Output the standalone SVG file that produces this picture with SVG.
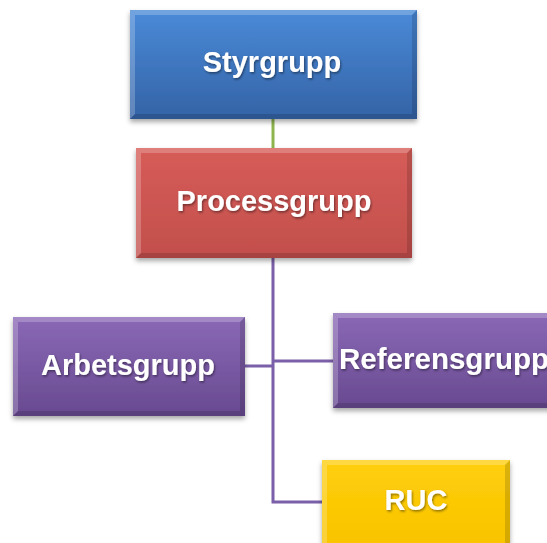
<svg xmlns="http://www.w3.org/2000/svg" width="547" height="543" viewBox="0 0 547 543">
<defs>
<linearGradient id="gBlue" x1="0" y1="0" x2="0" y2="1"><stop offset="0" stop-color="#4a8ad8"/><stop offset="1" stop-color="#3463a6"/></linearGradient>
<linearGradient id="gRed" x1="0" y1="0" x2="0" y2="1"><stop offset="0" stop-color="#d65c58"/><stop offset="1" stop-color="#c24f4c"/></linearGradient>
<linearGradient id="gPurple" x1="0" y1="0" x2="0" y2="1"><stop offset="0" stop-color="#8a68b6"/><stop offset="1" stop-color="#684a90"/></linearGradient>
<linearGradient id="gYellow" x1="0" y1="0" x2="0" y2="1"><stop offset="0" stop-color="#ffcf0a"/><stop offset="1" stop-color="#f8c200"/></linearGradient>
<filter id="shadow" x="-10%" y="-10%" width="120%" height="130%"><feDropShadow dx="0" dy="3" stdDeviation="2.5" flood-color="#000" flood-opacity="0.35"/></filter>
<filter id="tshadow" x="-10%" y="-20%" width="120%" height="150%"><feDropShadow dx="1" dy="1.5" stdDeviation="1" flood-color="#000" flood-opacity="0.45"/></filter>
</defs>
<style>
.lbl{font-family:"Liberation Sans",Arial,sans-serif;font-weight:bold;font-size:29px;fill:#ffffff;filter:url(#tshadow)}
.hi{fill:#ffffff;opacity:0.22}
.lo{fill:#000000;opacity:0.14}
.conn{fill:none;stroke-width:3}
</style>
<g id="connectors">
<line class="conn" x1="273" y1="119" x2="273" y2="148" stroke="#8db54c"/>
<path class="conn" d="M273 258 V502 H322" stroke="#7b5fa8"/>
<path class="conn" d="M245 366 H273" stroke="#7b5fa8"/>
<path class="conn" d="M273 361 H333" stroke="#7b5fa8"/>
</g>
<g id="styrgrupp">
<rect x="130" y="10" width="287" height="109" fill="url(#gBlue)" filter="url(#shadow)"/>
<polygon class="hi" points="130,10 417,10 412,15 135,15"/>
<polygon class="hi" points="130,10 135,15 135,114 130,119" opacity="0.12"/>
<polygon class="lo" points="130,119 135,114 412,114 417,119"/>
<polygon class="lo" points="417,10 417,119 412,114 412,15"/>
<text class="lbl" x="272" y="72" text-anchor="middle">Styrgrupp</text>
</g>
<g id="processgrupp">
<rect x="136" y="148" width="276" height="110" fill="url(#gRed)" filter="url(#shadow)"/>
<polygon class="hi" points="136,148 412,148 407,153 141,153"/>
<polygon class="hi" points="136,148 141,153 141,253 136,258" opacity="0.12"/>
<polygon class="lo" points="136,258 141,253 407,253 412,258"/>
<polygon class="lo" points="412,148 412,258 407,253 407,153"/>
<text class="lbl" x="274" y="211" text-anchor="middle">Processgrupp</text>
</g>
<g id="arbetsgrupp">
<rect x="13" y="317" width="232" height="99" fill="url(#gPurple)" filter="url(#shadow)"/>
<polygon class="hi" points="13,317 245,317 240,322 18,322"/>
<polygon class="hi" points="13,317 18,322 18,411 13,416" opacity="0.12"/>
<polygon class="lo" points="13,416 18,411 240,411 245,416"/>
<polygon class="lo" points="245,317 245,416 240,411 240,322"/>
<text class="lbl" x="128" y="375" text-anchor="middle">Arbetsgrupp</text>
</g>
<g id="referensgrupp">
<rect x="333" y="313" width="240" height="95" fill="url(#gPurple)" filter="url(#shadow)"/>
<polygon class="hi" points="333,313 573,313 568,318 338,318"/>
<polygon class="hi" points="333,313 338,318 338,403 333,408" opacity="0.12"/>
<polygon class="lo" points="333,408 338,403 568,403 573,408"/>
<text class="lbl" x="339" y="369" textLength="210" lengthAdjust="spacingAndGlyphs">Referensgrupp</text>
</g>
<g id="ruc">
<rect x="322" y="460" width="188" height="95" fill="url(#gYellow)" filter="url(#shadow)"/>
<polygon class="hi" points="322,460 510,460 505,465 327,465"/>
<polygon class="hi" points="322,460 327,465 327,550 322,555" opacity="0.12"/>
<polygon class="lo" points="510,460 510,555 505,550 505,465" opacity="0.1"/>
<text class="lbl" x="416" y="510" text-anchor="middle">RUC</text>
</g>
</svg>
